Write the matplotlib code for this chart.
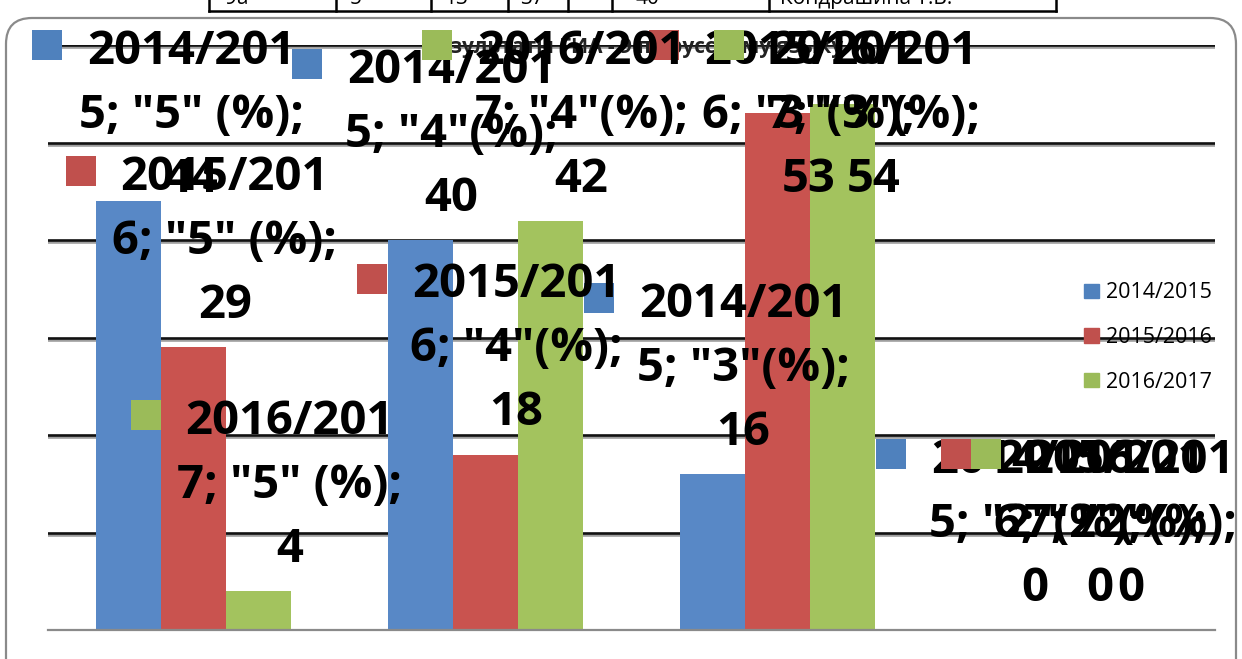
import matplotlib
matplotlib.use("Agg")
import matplotlib.pyplot as plt
import matplotlib.patheffects as pe
from matplotlib.patches import Rectangle, FancyBboxPatch
from matplotlib.lines import Line2D
from matplotlib.transforms import IdentityTransform
import numpy as np

# ---------------- data ----------------
categories = ['"5" (%)', '"4"(%)', '"3"(%)', '"2"(%)']
series_names = ['2014/2015', '2015/2016', '2016/2017']
vals_2014_2015 = [44, 40, 16, 0]
vals_2015_2016 = [29, 18, 53, 0]
vals_2016_2017 = [4, 42, 54, 0]
title_text = 'Результаты ГИА - 9 по русскому языку'
table_cells = ['9а', '5', '13', '37', '', '40', 'Кондрашина Т.В.']

series_vals = [vals_2014_2015, vals_2015_2016, vals_2016_2017]
bar_colors = ['#5888c6', '#c9534f', '#a3c35e']
key_colors = ['#4f81bd', '#c0504d', '#9bbb59']

W, H, DPI = 1242, 659, 100
FONT = 'Open Sans'
ID = IdentityTransform()

fig = plt.figure(figsize=(W / DPI, H / DPI), dpi=DPI)
fig.patch.set_facecolor('white')

# chart-area rounded border
border = FancyBboxPatch((6, -30), 1230, H - 18 + 30, boxstyle='round,pad=0,rounding_size=26',
                        transform=ID, facecolor='none', edgecolor='#8a8a8a', lw=1.6, zorder=0.5)
fig.add_artist(border)

# fragment of document table above the chart
tab_x = [209, 336, 431, 508, 568, 612, 769, 1056]
for xv in tab_x:
    fig.add_artist(Line2D([xv, xv], [H - 11, H + 5], transform=ID, color='black', lw=1.8))
fig.add_artist(Line2D([tab_x[0], tab_x[-1]], [H - 11, H - 11], transform=ID, color='black', lw=1.8))
cell_x = [225, 350, 444, 520, 590, 635, 780]
for cx_, s in zip(cell_x, table_cells):
    fig.text(cx_, H - 4, s, transform=ID, fontsize=15, family=FONT, ha='left', va='baseline')

# ---------------- axes ----------------
ax = fig.add_axes([48 / W, 29 / H, (1215 - 48) / W, (630 - 45) / H])
ax.set_xlim(-0.5, len(categories) - 0.5)
ax.set_ylim(0, 60)
bw = 65 / 292
xs = np.arange(len(categories))
for i, (vals, col) in enumerate(zip(series_vals, bar_colors)):
    ax.bar(xs + (i - 1) * bw, vals, width=bw, color=col, edgecolor='none', zorder=2)

ax.set_yticks(np.arange(10, 61, 10))
ax.set_axisbelow(True)
ax.grid(axis='y', color='#111111', lw=1.9,
        path_effects=[pe.SimpleLineShadow(offset=(0, -1.5), shadow_color='#777777', alpha=0.7), pe.Normal()])
ax.grid(axis='x', visible=False)
ax.tick_params(length=0, labelleft=False, labelbottom=False)
for s in ['left', 'top', 'right']:
    ax.spines[s].set_visible(False)
ax.spines['bottom'].set_color('#8a8a8a')
ax.spines['bottom'].set_linewidth(1.6)

handles = [Rectangle((0, 0), 1, 1, color=c) for c in key_colors]
ax.legend(handles, series_names, loc='center left', bbox_to_anchor=(0.888, 0.5), frameon=False,
          prop={'family': FONT, 'size': 15.5}, handlelength=0.66, handleheight=0.66,
          handletextpad=0.35, labelspacing=1.1, borderpad=0, borderaxespad=0)

# title
fig.text(634, H - 47, title_text, transform=ID, ha='center', va='center', fontsize=15,
         weight='bold', family=FONT, color='#222222', zorder=3.5)

# ---------------- data labels (Excel style, series; category; value) ----------------
fig.canvas.draw()
renderer = fig.canvas.get_renderer()
LS = 64        # line pitch in px
CAP = 16.8     # half cap height in px
for i, (name, vals) in enumerate(zip(series_names, series_vals)):
    for j, v in enumerate(vals):
        xc = j + (i - 1) * bw
        px, py = ax.transData.transform((xc, v))
        top_px = H - py
        cx = px + 31
        l1 = max(top_px - 174, 47)
        lines = [name[:-1], f'{name[-1]}; {categories[j]};', str(v)]
        tobjs = [fig.text(0, 0, s, transform=ID, ha='center', va='baseline', fontsize=34,
                          weight='bold', family=FONT, color='black', zorder=4.05 + i * 0.1)
                 for s in lines]
        ws = [t.get_window_extent(renderer).width for t in tobjs]
        left = min(cx - ws[0] / 2 - 25 - 30, cx - ws[1] / 2)
        right = cx + max(ws) / 2
        if left < 32:
            cx += 32 - left
        if right > 1237:
            cx -= right - 1237
        for k, t in enumerate(tobjs):
            t.set_position((cx, H - (l1 + k * LS + CAP)))
        kx = cx - ws[0] / 2 - 25 - 30
        fig.add_artist(Rectangle((kx, H - (l1 - 2) - 15), 30, 30, transform=ID,
                                 facecolor=key_colors[i], edgecolor='none', zorder=4.0 + i * 0.1))

fig.savefig('out.png', dpi=DPI)
